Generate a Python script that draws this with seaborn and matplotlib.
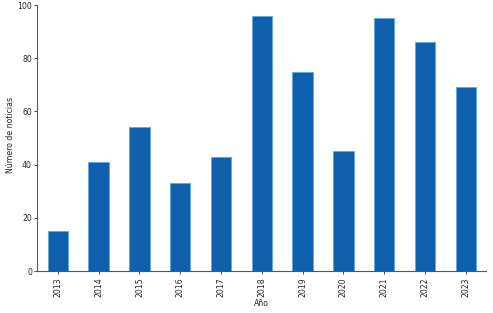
import matplotlib
matplotlib.use("Agg")
import matplotlib.pyplot as plt
import seaborn as sns
import pandas as pd

years = ["2013", "2014", "2015", "2016", "2017", "2018", "2019", "2020", "2021", "2022", "2023"]
counts = [15, 41, 54, 33, 43, 96, 75, 45, 95, 86, 69]

sns.set_style("ticks")
plt.rcParams['font.family'] = ['DejaVu Sans']

df = pd.DataFrame({"Año": years, "Número de noticias": counts})

fig = plt.figure(figsize=(4.93, 3.13), dpi=100)
ax = fig.add_axes([0.076, 0.134, 0.910, 0.850])
sns.barplot(data=df, x="Año", y="Número de noticias", color="#0e60ad", saturation=1,
            width=0.5, ax=ax, edgecolor="#5fa8e0", linewidth=0.6)
ax.set_ylim(0, 100)
ax.set_xlim(-0.5, 10.5)
ax.set_yticks([0, 20, 40, 60, 80, 100])
ax.tick_params(axis='x', rotation=90, labelsize=5.6, length=2.5, width=0.6, pad=2)
ax.tick_params(axis='y', labelsize=5.6, length=2.5, width=0.6, pad=1.5)
ax.set_xlabel("Año", fontsize=5.6, va="center")
ax.xaxis.set_label_coords(0.5, -0.122)
ax.set_ylabel("Número de noticias", fontsize=5.6)
ax.yaxis.set_label_coords(-0.051, 0.512)
for s in ["top", "right"]:
    ax.spines[s].set_visible(False)
for s in ["left", "bottom"]:
    ax.spines[s].set_color("#555555")
    ax.spines[s].set_linewidth(0.8)
fig.savefig("out.png", dpi=100)
